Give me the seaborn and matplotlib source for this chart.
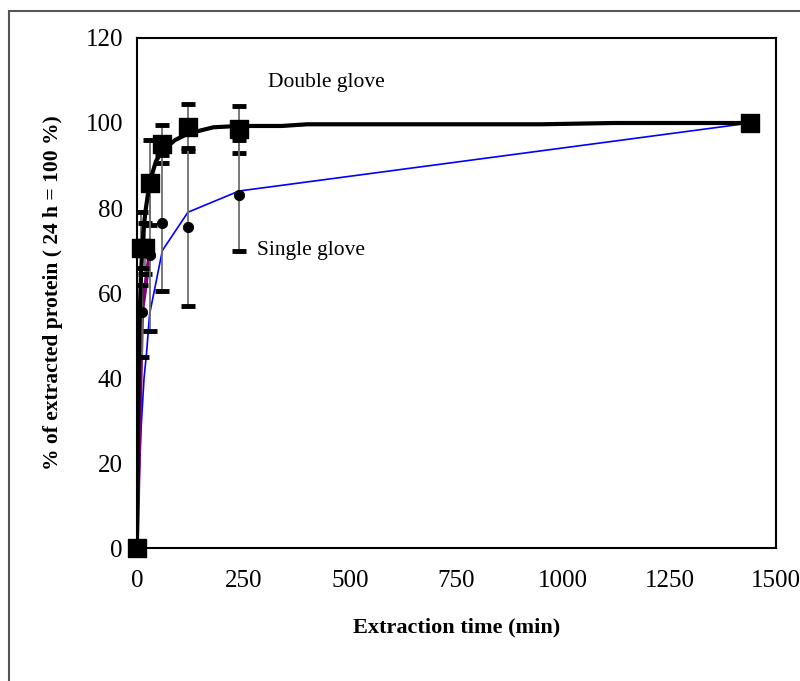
import seaborn as sns
import matplotlib.pyplot as plt
import numpy as np
from matplotlib.patches import Rectangle

# measured points (minutes, % of 24 h value)
dbl_time = [0, 10, 20, 30, 60, 120, 240, 1440]
dbl_pct = [0, 70.5, 70.5, 86, 95, 99, 98.5, 100]
dbl_err = [0, 8.5, 6, 10, 4.5, 5.5, 5.5, 0]

sgl_time = [0, 12, 30, 60, 120, 240, 1440]
sgl_pct = [0, 55.5, 69, 76.5, 75.5, 83, 100]
sgl_err = [0, 10.5, 18, 16, 18.5, 13, 0]

# fitted curves
dbl_fit_time = [0, 3, 6, 10, 15, 20, 30, 45, 60, 90, 120, 180, 240, 340, 400, 950, 1120, 1440]
dbl_fit_pct = [0, 30, 52, 65, 74, 79, 86, 91, 93.5, 96, 97.5, 99, 99.3, 99.3, 99.7, 99.7, 100, 100]

sgl_fit_time = [0, 5, 10, 17, 23, 30, 60, 120, 240, 1440]
sgl_fit_pct = [0, 15, 28, 40, 46, 55, 70, 79, 84, 100]

sgl_link_time = [0, 12, 30]
sgl_link_pct = [0, 55.5, 69]

sns.set_style("white")
plt.rcParams['font.family'] = ['Liberation Serif', 'DejaVu Serif']
plt.rcParams['text.color'] = 'black'
plt.rcParams['axes.labelcolor'] = 'black'

fig = plt.figure(figsize=(8, 6.81), dpi=100)
ax = fig.add_axes([0.171, 0.1953, 0.799, 0.7489])

# chart area frame
fig.patches.append(Rectangle((8.5 / 800, -0.01), 1.0, 1 - 10.5 / 681 + 0.01,
                             transform=fig.transFigure, fill=False,
                             edgecolor='#555555', linewidth=1.5))

sns.lineplot(x=sgl_fit_time, y=sgl_fit_pct, ax=ax, color='#0000ff', linewidth=1.2,
             sort=False, estimator=None)
sns.lineplot(x=sgl_link_time, y=sgl_link_pct, ax=ax, color='#800080', linewidth=3,
             sort=False, estimator=None)

# error bars: grey stems, thick black caps
for t, p, e in [(dbl_time, dbl_pct, dbl_err), (sgl_time, sgl_pct, sgl_err)]:
    t = np.array(t); p = np.array(p); e = np.array(e)
    m = e > 0
    ax.errorbar(t[m], p[m], yerr=e[m], fmt='none', ecolor='#6e6e6e', elinewidth=1.3, capsize=0)
    ax.plot(t[m], p[m] + e[m], '_', color='black', markersize=10, mew=3.5)
    ax.plot(t[m], p[m] - e[m], '_', color='black', markersize=10, mew=3.5)

sns.lineplot(x=dbl_fit_time, y=dbl_fit_pct, ax=ax, color='black', linewidth=3,
             sort=False, estimator=None)

sns.scatterplot(x=sgl_time, y=sgl_pct, ax=ax, color='black', marker='o', s=55,
                edgecolor='black', zorder=5, clip_on=False)
sns.scatterplot(x=dbl_time, y=dbl_pct, ax=ax, color='black', marker='s', s=150,
                edgecolor='black', zorder=6, clip_on=False)

ax.set_xlim(0, 1500)
ax.set_ylim(0, 120)
ax.set_xticks([0, 250, 500, 750, 1000, 1250, 1500])
ax.set_yticks([0, 20, 40, 60, 80, 100, 120])
ax.tick_params(direction='inout', length=12, width=1, labelsize=18, colors='black')
ax.tick_params(axis='x', pad=10)
ax.tick_params(axis='y', pad=4)
for s in ax.spines.values():
    s.set_color('black')
    s.set_linewidth(1.5)

ax.text(307, 109.6, 'Double glove', fontsize=15.5, va='center', ha='left')
ax.text(282, 70, 'Single glove', fontsize=15.5, va='center', ha='left')

ax.set_xlabel('Extraction time (min)', fontsize=16, fontweight='bold', labelpad=18)
ax.set_ylabel('% of extracted protein ( 24 h = 100 %)', fontsize=15.5, fontweight='bold',
              labelpad=16)

plt.savefig('out.png', dpi=100)
